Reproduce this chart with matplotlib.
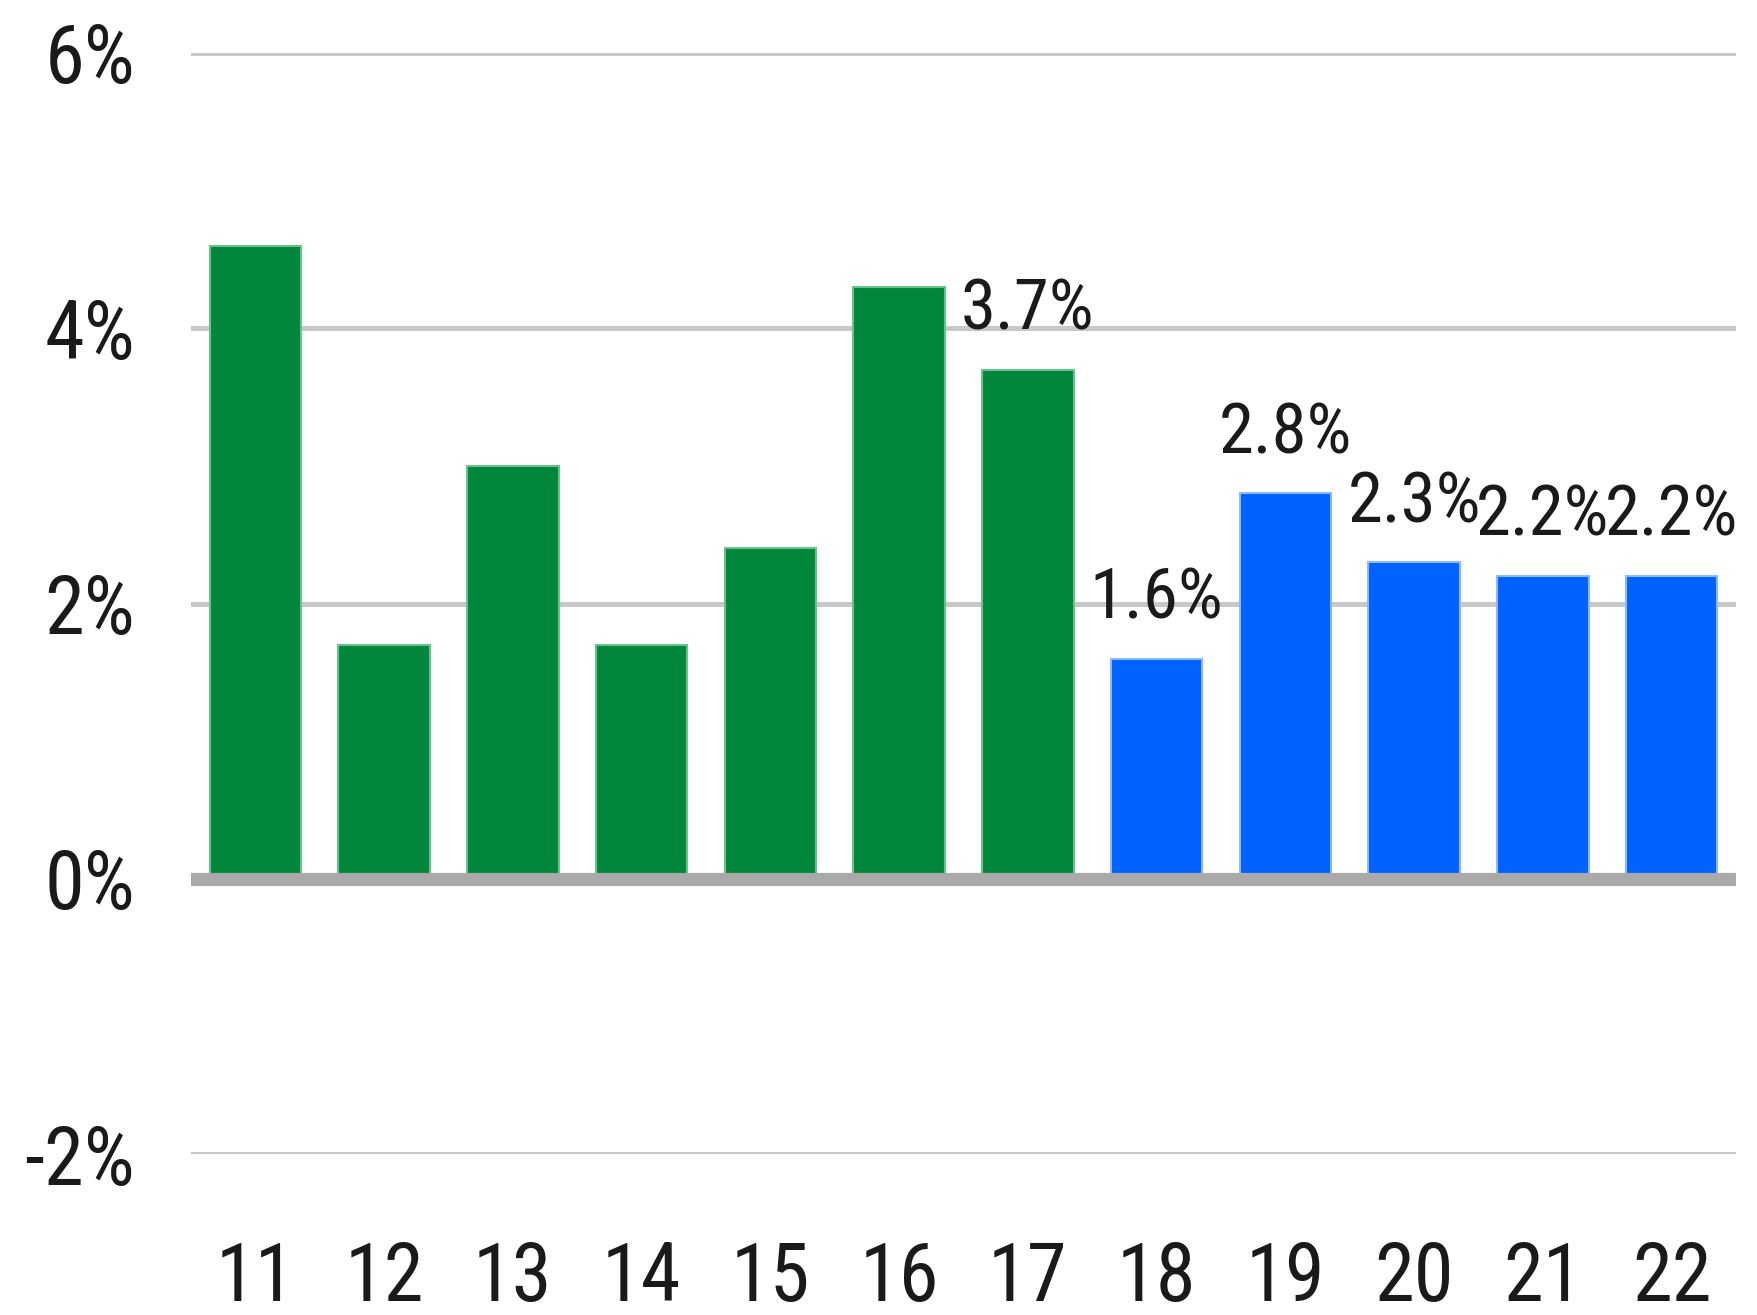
import matplotlib
matplotlib.use("Agg")
import matplotlib.pyplot as plt
from matplotlib import font_manager

categories = ["11", "12", "13", "14", "15", "16", "17", "18", "19", "20", "21", "22"]
values = [4.6, 1.7, 3.0, 1.7, 2.4, 4.3, 3.7, 1.6, 2.8, 2.3, 2.2, 2.2]
actual_or_forecast = ["a", "a", "a", "a", "a", "a", "a", "f", "f", "f", "f", "f"]
labelled = [False, False, False, False, False, False, True, True, True, True, True, True]
yticks = [-2, 0, 2, 4, 6]
ytick_labels = ["-2%", "0%", "2%", "4%", "6%"]

names = {f.name for f in font_manager.fontManager.ttflist}
fam = ["Liberation Sans Narrow", "Roboto Condensed", "Liberation Sans", "DejaVu Sans"]
fam = [f for f in fam if f in names] + ["DejaVu Sans"]
narrow = fam[0] in ("Liberation Sans Narrow", "Roboto Condensed")
plt.rcParams['font.family'] = fam

fig = plt.figure(figsize=(17.58, 13.15), dpi=100)
ax = fig.add_axes([0.1086, 0.1224, 0.8789, 0.8373])

green = "#00873c"
blue = "#0062ff"
colors = [green if t == "a" else blue for t in actual_or_forecast]
edges = ["#6cc08f" if t == "a" else "#8fb7ff" for t in actual_or_forecast]
x = list(range(len(categories)))
ax.bar(x, values, width=0.71, color=colors, edgecolor=edges, linewidth=1.5, zorder=3)

for v in [-2, 2, 4, 6]:
    ax.axhline(v, color="#c8c8c8", lw=3.6, zorder=1)
ax.axhline(0, color="#a9a9a9", lw=9.5, zorder=4)

lab_fs = 51 if narrow else 42
tick_fs = 58 if narrow else 49
for xi, v, lab in zip(x, values, labelled):
    if lab:
        ax.annotate(f"{v:.1f}%", (xi, v), xytext=(0, 43), textcoords="offset points",
                    ha="center", va="center", fontsize=lab_fs, color="#1a1a1a", zorder=5)

ax.set_xlim(-0.5, len(categories) - 0.5)
ax.set_ylim(-2, 6)
ax.set_yticks(yticks)
ax.set_yticklabels(ytick_labels)
ax.set_xticks(x)
ax.set_xticklabels(categories)
ax.tick_params(axis="y", length=0, pad=40, labelsize=tick_fs, labelcolor="#1a1a1a")
ax.tick_params(axis="x", length=0, pad=62, labelsize=tick_fs, labelcolor="#1a1a1a")
for s in ax.spines.values():
    s.set_visible(False)

fig.savefig("out.png", dpi=100)
